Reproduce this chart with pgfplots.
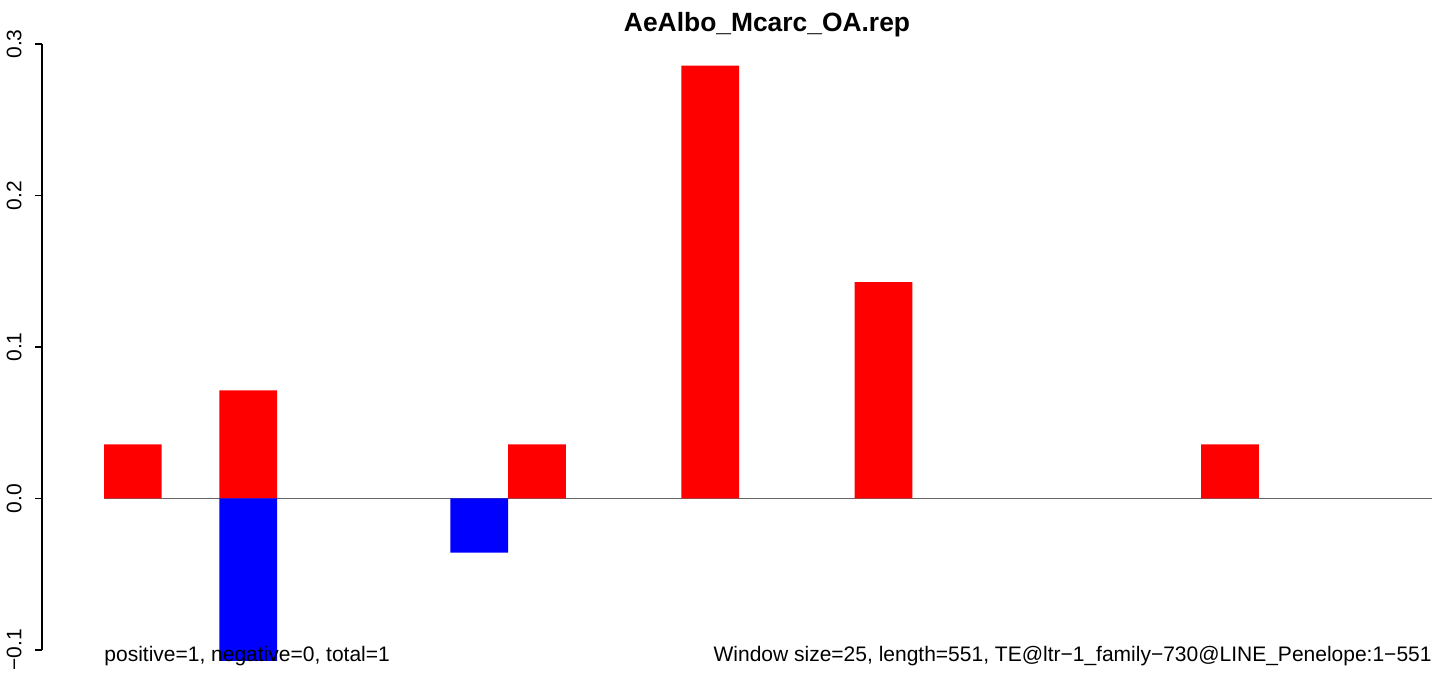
\documentclass[border=0pt]{standalone}
\usepackage{pgfplots}
\pgfplotsset{compat=1.18}
\usepackage{fontspec}
\setmainfont{Liberation Sans}
\begin{document}
\begin{tikzpicture}
\begin{axis}[
  at={(0,0)}, anchor=south west,
  scale only axis, width=703.5pt, height=303pt,
  xmin=-1.0738, xmax=23.294, ymin=-0.1, ymax=0.3,
  axis y line*=left, axis x line=none,
  ytick={-0.1,0,0.1,0.2,0.3},
  yticklabels={−0.1,0.0,0.1,0.2,0.3},
  tick align=outside, major tick length=3.5pt,
  y axis line style={line width=0.7pt, black},
  every tick/.style={black, line width=0.7pt},
  yticklabel style={font=\fontsize{10.5}{12}\selectfont, rotate=90, anchor=south, inner sep=0pt, yshift=6.5pt},
  clip=false,
]
\addplot[draw=gray!80!black, line width=0.5pt] coordinates {(0,0) (23,0)};
\addplot[ybar, bar width=1, bar shift=0pt, fill=red, draw=none] coordinates {
  (0.5,0.035714) (2.5,0.071429) (7.5,0.035714) (10.5,0.285714) (13.5,0.142857) (19.5,0.035714)};
\addplot[ybar, bar width=1, bar shift=0pt, fill=blue, draw=none] coordinates {
  (2.5,-0.107143) (6.5,-0.035714)};
\node[anchor=base west, inner sep=0pt, font=\fontsize{10.5}{12}\selectfont] at (axis cs:0,-0.10727) {positive=1, negative=0, total=1};
\node[anchor=base east, inner sep=0pt, font=\fontsize{10.5}{12}\selectfont] at (axis cs:23,-0.10727) {Window size=25, length=551, TE@ltr−1\_family−730@LINE\_Penelope:1−551};
\node[anchor=base, inner sep=0pt, font=\fontsize{13.2}{15}\selectfont\bfseries] at (rel axis cs:0.5153,1) [yshift=6pt] {AeAlbo\_Mcarc\_OA.rep};
\end{axis}
\pgfresetboundingbox
\path[use as bounding box] (-21pt,-11.5pt) rectangle (703.5pt,325pt);
\end{tikzpicture}
\end{document}
